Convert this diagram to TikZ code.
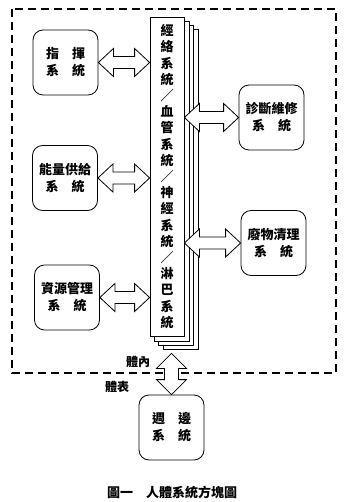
\documentclass[tikz,border=0pt]{standalone}
\usepackage{fontspec}
\setmainfont{Noto Sans CJK TC}
\usetikzlibrary{calc, backgrounds}

% 雙向粗箭頭 (左 -> 右, 以第一點的高度)
\newcommand{\harrow}[2]{%
  \draw[fill=white] let \p1=(#1), \p2=(#2) in
    (\x1,\y1) -- (\x1+15pt,\y1+14pt) -- (\x1+15pt,\y1+6pt) -- (\x2-15pt,\y1+6pt)
    -- (\x2-15pt,\y1+14pt) -- (\x2,\y1) -- (\x2-15pt,\y1-14pt) -- (\x2-15pt,\y1-6pt)
    -- (\x1+15pt,\y1-6pt) -- (\x1+15pt,\y1-14pt) -- cycle;}
% 雙向粗箭頭 (上 -> 下, 以第一點的橫向位置)
\newcommand{\varrow}[2]{%
  \draw[fill=white] let \p1=(#1), \p2=(#2) in
    (\x1,\y1) -- (\x1+15pt,\y1-15pt) -- (\x1+7pt,\y1-15pt) -- (\x1+7pt,\y2+15pt)
    -- (\x1+15pt,\y2+15pt) -- (\x1,\y2) -- (\x1-15pt,\y2+15pt) -- (\x1-7pt,\y2+15pt)
    -- (\x1-7pt,\y1-15pt) -- (\x1-15pt,\y1-15pt) -- cycle;}

\begin{document}
\begin{tikzpicture}[x=1pt, y=-1pt, line width=0.8pt,
  sysbox/.style={draw, fill=white, rounded corners=10pt, minimum width=65pt,
    minimum height=65pt, align=center, inner sep=0pt,
    font=\bfseries\fontsize{13}{17}\selectfont},
  tag/.style={font=\bfseries\fontsize{12}{14}\selectfont}]
  \useasboundingbox (0,0) rectangle (345,502);

  % 體內邊界
  \draw[line width=1.3pt, dash pattern=on 8pt off 5pt] (12,9) rectangle (336,373);

  % 中央傳輸系統 (疊層)
  \node[draw, fill=white, minimum width=34pt, minimum height=319pt, inner sep=0pt,
    align=center, font=\bfseries\fontsize{13}{16.2}\selectfont] (trunk) at (167,176.5)
    {經\\絡\\系\\統\\／\\血\\管\\系\\統\\／\\神\\經\\系\\統\\／\\淋\\巴\\系\\統};
  \begin{scope}[on background layer]
    \foreach \k in {3,2,1}
      \draw[fill=white] ($(trunk.north west)+(4.5*\k,4.3*\k)$)
        rectangle ($(trunk.south east)+(4.5*\k,4.3*\k)$);
  \end{scope}

  \node[sysbox] (cmd)      at (65.5,62.5)  {指　揮\\系　統};
  \node[sysbox] (energy)   at (65,178)     {能量供給\\系　統};
  \node[sysbox] (resource) at (67,297.5)   {資源管理\\系　統};
  \node[sysbox] (diag)     at (271.5,117.5){診斷維修\\系　統};
  \node[sysbox] (waste)    at (273.5,243)  {廢物清理\\系　統};
  \node[sysbox] (periph)   at (171.5,427.5){週　邊\\系　統};

  \harrow{cmd.east}{trunk.west}
  \harrow{energy.east}{trunk.west}
  \harrow{resource.east}{trunk.west}
  \harrow{trunk.east |- diag.west}{diag.west}
  \harrow{trunk.east |- waste.west}{waste.west}

  % 體內 <-> 體表
  \coordinate (stackbot) at ($(trunk.south -| periph.north)+(0,17)$);
  \varrow{stackbot}{periph.north}

  \node[tag] (inner) at (138,362) {體內};
  \node[tag] (outer) at (117,387) {體表};

  \node[font=\bfseries\fontsize{13}{15}\selectfont] (caption) at (172,492)
    {圖一　人體系統方塊圖};
\end{tikzpicture}
\end{document}
